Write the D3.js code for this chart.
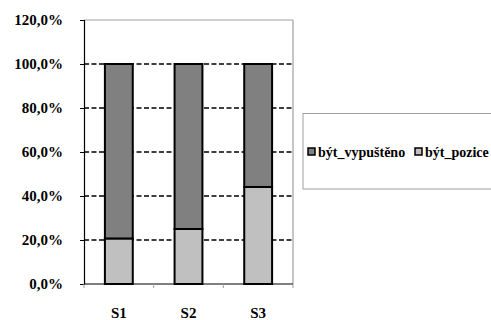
<!DOCTYPE html>
<html>
<head>
<meta charset="utf-8">
<script src="https://cdn.jsdelivr.net/npm/d3@7"></script>
<style>
  html, body { margin: 0; padding: 0; background: #fff; }
  svg { display: block; }
</style>
</head>
<body>
<svg id="chart" width="491" height="320"></svg>
<script>
// Stacked 100% columns: share of each outcome per sample
const categories = ["S1", "S2", "S3"];
const seriesNames = ["být_pozice", "být_vypuštěno"];
const pozice = [20.7, 25.0, 44.1];
const vypusteno = [79.3, 75.0, 55.9];
const yTicks = [0, 20, 40, 60, 80, 100, 120];
const colors = { "být_pozice": "#c0c0c0", "být_vypuštěno": "#808080" };

const FONT = "Liberation Serif";
const svg = d3.select("#chart");
const plot = { left: 84, right: 293, top: 20, bottom: 284 };

const x = d3.scaleBand().domain(categories).range([plot.left, plot.right]).paddingInner(0.6).paddingOuter(0.3);
const xBand = d3.scaleBand().domain(categories).range([plot.left, plot.right]);
const y = d3.scaleLinear().domain([0, 120]).range([plot.bottom, plot.top]);

const fmt = v => d3.format(".1f")(v).replace(".", ",") + "%";

// Bold serif text, applied on each text node
function serif(sel, size) {
  sel.attr("font-family", FONT).attr("font-size", size).attr("font-weight", "bold")
    .style("font-family", FONT).style("font-size", size + "px").style("font-weight", "bold")
    .attr("fill", "#000");
}

// Grid lines (dashed), top line is part of the frame
svg.append("g").selectAll("line")
  .data(yTicks.filter(t => t > 0 && t < 120))
  .join("line")
  .attr("x1", plot.left).attr("x2", plot.right)
  .attr("y1", d => y(d)).attr("y2", d => y(d))
  .attr("stroke", "#000").attr("stroke-width", 1.5).attr("stroke-dasharray", "5,2.5");

// Frame: top and right in gray
svg.append("line").attr("x1", plot.left).attr("x2", plot.right)
  .attr("y1", y(120)).attr("y2", y(120)).attr("stroke", "#a0a0a0").attr("stroke-width", 1.2);
svg.append("line").attr("x1", plot.right).attr("x2", plot.right)
  .attr("y1", y(120)).attr("y2", plot.bottom).attr("stroke", "#a0a0a0").attr("stroke-width", 1.2);

// Stacked bars
const rows = categories.map((c, i) => ({ cat: c, "být_pozice": pozice[i], "být_vypuštěno": vypusteno[i] }));
const stack = d3.stack().keys(seriesNames)(rows);
svg.append("g").selectAll("g")
  .data(stack)
  .join("g")
  .attr("fill", d => colors[d.key])
  .selectAll("rect")
  .data(d => d)
  .join("rect")
  .attr("x", d => x(d.data.cat))
  .attr("width", x.bandwidth())
  .attr("y", d => y(d[1]))
  .attr("height", d => y(d[0]) - y(d[1]))
  .attr("stroke", "#000").attr("stroke-width", 2);

// Y axis
const yAxis = d3.axisLeft(y).tickValues(yTicks).tickFormat(fmt).tickSize(4).tickPadding(17);
const gy = svg.append("g").attr("transform", `translate(${plot.left},0)`).call(yAxis);
gy.select(".domain").attr("stroke", "#000").attr("stroke-width", 1.2);
gy.selectAll(".tick line").attr("stroke", "#000");
gy.selectAll("text").call(serif, 15);

// X axis: ticks at category boundaries
const gx = svg.append("g").attr("transform", `translate(0,${plot.bottom})`);
gx.append("line").attr("x1", plot.left).attr("x2", plot.right).attr("stroke", "#000").attr("stroke-width", 1.2);
gx.selectAll("line.t")
  .data(categories.map(c => xBand(c)).concat([plot.right]))
  .join("line").attr("class", "t")
  .attr("x1", d => d).attr("x2", d => d).attr("y1", 0).attr("y2", 4)
  .attr("stroke", "#a0a0a0");
gx.selectAll("text")
  .data(categories)
  .join("text")
  .attr("x", d => xBand(d) + xBand.bandwidth() / 2)
  .attr("y", 34)
  .attr("text-anchor", "middle")
  .call(serif, 15)
  .text(d => d);

// Legend
const legend = svg.append("g");
legend.append("rect").attr("x", 303).attr("y", 113.5).attr("width", 200).attr("height", 75.5)
  .attr("fill", "#fff").attr("stroke", "#a0a0a0").attr("stroke-width", 1);
const legendItems = ["být_vypuštěno", "být_pozice"];
const legendX = [308, 415];
legendItems.forEach((name, i) => {
  legend.append("rect").attr("x", legendX[i]).attr("y", 148).attr("width", 7).attr("height", 7)
    .attr("fill", colors[name]).attr("stroke", "#000").attr("stroke-width", 1.5);
  legend.append("text").attr("x", legendX[i] + 10).attr("y", 156.5).call(serif, 14).text(name);
});
</script>
</body>
</html>
